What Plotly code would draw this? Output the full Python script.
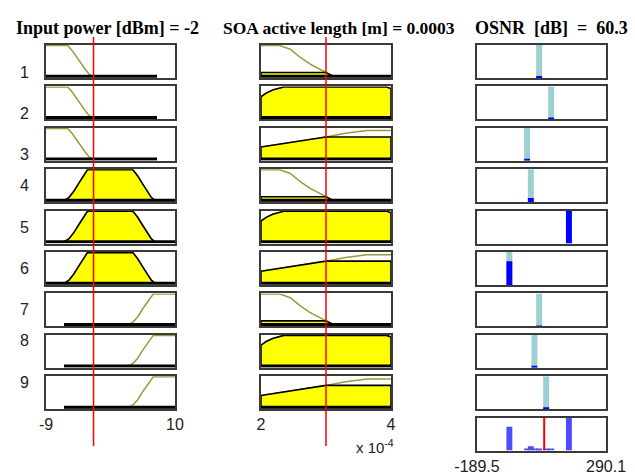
import plotly.graph_objects as go
import numpy as np

W, H = 635, 475

# ---------------- data ----------------
power_range = [-9, 10]
soa_range = [2, 4]            # x 1e-4 m
osnr_range = [-189.5, 290.1]
input_power = -2
soa_length = 3.0              # x 1e-4 m  (0.0003 m)
osnr_value = 60.3

# input power membership functions
power_low_x = [-9, -5.8, -5.2, -4.5, -3.8, -3.2, -2.7, -2.2, -2.0, 7.35]
power_low_y = [1, 1, 0.85, 0.62, 0.40, 0.22, 0.08, 0.0, 0.0, 0.0]
power_mid_x = [-9, -6.3, -5.6, -4.9, -4.2, -3.5, -2.9, 3.8, 4.5, 5.2, 5.9, 6.5, 7.05, 10]
power_mid_y = [0, 0, 0.10, 0.30, 0.55, 0.80, 1, 1, 0.80, 0.55, 0.30, 0.10, 0, 0]
power_high_x = [-6.35, 3.1, 3.8, 4.5, 5.2, 5.9, 6.4, 6.8, 10]
power_high_y = [0, 0, 0.08, 0.25, 0.50, 0.72, 0.90, 1, 1]

# SOA active length membership functions (x 1e-4 m)
soa_short_x = [2.0, 2.29, 2.45, 2.6, 2.75, 2.9, 3.0, 3.11, 4.0]
soa_short_y = [1, 1, 0.88, 0.62, 0.40, 0.22, 0.12, 0, 0]
soa_full_x = [2.0, 2.08, 2.18, 2.35, 3.93, 4.0]
soa_full_y = [0.68, 0.80, 0.90, 1, 1, 0.95]
soa_rise_x = [2.0, 2.5, 3.0, 3.3, 3.63, 4.0]
soa_rise_y = [0.39, 0.55, 0.72, 0.84, 0.93, 0.93]

rule_power_mf = ["low", "low", "low", "mid", "mid", "mid", "high", "high", "high"]
rule_soa_mf = ["short", "full", "rise", "short", "full", "rise", "short", "full", "rise"]
rule_power_degree = [0, 0, 0, 1, 1, 1, 0, 0, 0]
rule_soa_degree = [0.12, 1, 0.72, 0.12, 1, 0.72, 0.12, 1, 0.72]

osnr_centers = [41.5, 86.2, -3.2, 10.6, 152.2, -69.2, 41.5, 24.0, 67.6]
rule_strength = [0.05, 0.05, 0.05, 0.13, 1.0, 0.72, 0.02, 0.05, 0.05]
osnr_mf_width = 22

rule_labels = ["1", "2", "3", "4", "5", "6", "7", "8", "9"]

power_mfs = {"low": (power_low_x, power_low_y), "mid": (power_mid_x, power_mid_y),
             "high": (power_high_x, power_high_y)}
soa_mfs = {"short": (soa_short_x, soa_short_y), "full": (soa_full_x, soa_full_y),
           "rise": (soa_rise_x, soa_rise_y)}

# ---------------- layout geometry (pixels) ----------------
cols = [(46, 175), (261, 391), (477, 606)]
row_top0, row_step, row_h = 45, 41.4, 33

def dom_x(c):
    return [cols[c][0] / W, cols[c][1] / W]

def dom_y(r):
    top = row_top0 + row_step * r
    return [1 - (top + row_h) / H, 1 - top / H]

OLIVE = "#9a9a3a"
YELLOW = "#ffff00"
TEAL = "#9ccfcf"
BLUE = "#0000ff"
AGG_BLUE = "#4d4dff"
BORDER = "#3a3a3a"
TXT = "#222222"
TICKFONT = dict(family="Liberation Sans", size=16, color=TXT)

fig = go.Figure()
layout = dict(width=W, height=H, margin=dict(l=0, r=0, t=0, b=0, autoexpand=False),
              paper_bgcolor="white", plot_bgcolor="white", showlegend=False,
              barmode="overlay")
shapes = []
annotations = []

axis_id = 0
axis_ref = {}

def add_axes(r, c, rng, yrng, ticks=None, layer="below traces"):
    global axis_id
    axis_id += 1
    n = axis_id
    sx = "" if n == 1 else str(n)
    xa = dict(domain=dom_x(c), range=rng, anchor="y" + sx, showgrid=False, zeroline=False,
              showline=True, mirror=True, linecolor=BORDER, linewidth=2, layer=layer,
              fixedrange=True, automargin=False)
    if ticks:
        xa.update(tickmode="array", tickvals=ticks[0], ticktext=ticks[1], ticks="",
                  showticklabels=True, tickfont=TICKFONT)
    else:
        xa.update(showticklabels=False, ticks="")
    ya = dict(domain=dom_y(r), range=yrng, anchor="x" + sx, showgrid=False, zeroline=False,
              showline=True, mirror=True, linecolor=BORDER, linewidth=2, layer=layer,
              showticklabels=False, ticks="", fixedrange=True, automargin=False)
    layout["xaxis" + sx] = xa
    layout["yaxis" + sx] = ya
    axis_ref[(r, c)] = ("x" + sx, "y" + sx)
    return "x" + sx, "y" + sx

MF_YRANGE = [-0.06, 1.02]
BAR_YRANGE = [0, 1.0]

def draw_mf(xs, ys, deg, xr, yr):
    xs = list(xs); ys = list(ys)
    fig.add_trace(go.Scatter(x=xs, y=ys, mode="lines", line=dict(color=OLIVE, width=1.5),
                             xaxis=xr, yaxis=yr, hoverinfo="skip"))
    fy = list(np.minimum(np.array(ys, dtype=float), deg))
    px = xs + [xs[-1], xs[0], xs[0]]
    py = fy + [0, 0, fy[0]]
    fig.add_trace(go.Scatter(x=px, y=py, mode="lines", fill="toself", fillcolor=YELLOW,
                             line=dict(color="black", width=1.6), xaxis=xr, yaxis=yr,
                             hoverinfo="skip"))
    # thick baseline of the rule patch
    fig.add_trace(go.Scatter(x=[xs[0], xs[-1]], y=[0, 0], mode="lines",
                             line=dict(color="black", width=3), xaxis=xr, yaxis=yr,
                             hoverinfo="skip"))

for r in range(9):
    last = r == 8
    # input power column
    xr, yr = add_axes(r, 0, power_range, MF_YRANGE,
                      ticks=([power_range[0], power_range[1]], ["-9", "10"]) if last else None)
    mx, my = power_mfs[rule_power_mf[r]]
    draw_mf(mx, my, rule_power_degree[r], xr, yr)
    # SOA column
    xr, yr = add_axes(r, 1, soa_range, MF_YRANGE,
                      ticks=([soa_range[0], soa_range[1]], ["2", "4"]) if last else None)
    mx, my = soa_mfs[rule_soa_mf[r]]
    draw_mf(mx, my, rule_soa_degree[r], xr, yr)
    # OSNR column
    xr, yr = add_axes(r, 2, osnr_range, BAR_YRANGE, layer="above traces")
    fig.add_trace(go.Bar(x=[osnr_centers[r]], y=[1], width=[osnr_mf_width], marker_color=TEAL,
                         marker_line_width=0, xaxis=xr, yaxis=yr, hoverinfo="skip"))
    fig.add_trace(go.Bar(x=[osnr_centers[r]], y=[rule_strength[r]], width=[osnr_mf_width],
                         marker_color=BLUE, marker_line_width=0, xaxis=xr, yaxis=yr,
                         hoverinfo="skip"))
    # rule number
    d = dom_y(r)
    annotations.append(dict(x=18 / W, y=(d[0] + d[1]) / 2, xref="paper", yref="paper",
                            text=rule_labels[r], showarrow=False, font=TICKFONT))

# aggregated output
xr, yr = add_axes(9, 2, osnr_range, BAR_YRANGE,
                  ticks=([osnr_range[0], osnr_range[1]], ["-189.5", "290.1"]), layer="above traces")
fig.add_trace(go.Bar(x=osnr_centers, y=rule_strength, width=[osnr_mf_width] * 9,
                     marker_color=AGG_BLUE, marker_line_width=0, xaxis=xr, yaxis=yr,
                     hoverinfo="skip"))
shapes.append(dict(type="line", xref=xr, yref=yr, x0=osnr_value, x1=osnr_value, y0=0, y1=1,
                   line=dict(color="red", width=2)))

# red input lines through columns 1 and 2
for c, val in [(0, input_power), (1, soa_length)]:
    xref = axis_ref[(8, c)][0]
    shapes.append(dict(type="line", xref=xref, yref="paper", x0=val, x1=val,
                       y0=1 - 446 / H, y1=1 - 37 / H, line=dict(color="red", width=1.5)))

# titles
tfont = dict(family="Liberation Serif", size=18, color="black")
annotations.append(dict(x=14 / W, y=1 - 16 / H, xref="paper", yref="paper", xanchor="left",
                        text="<b>Input power [dBm] = -2</b>", showarrow=False, font=tfont))
annotations.append(dict(x=221 / W, y=1 - 16 / H, xref="paper", yref="paper", xanchor="left",
                        text="<b>SOA active length [m] = 0.0003</b>", showarrow=False,
                        font=dict(family="Liberation Serif", size=17.5, color="black")))
annotations.append(dict(x=630 / W, y=1 - 16 / H, xref="paper", yref="paper", xanchor="right",
                        text="<b>OSNR&nbsp;&nbsp;[dB]&nbsp;&nbsp;=&nbsp;&nbsp;60.3</b>",
                        showarrow=False, font=tfont))
annotations.append(dict(x=375 / W, y=1 - 458 / H, xref="paper", yref="paper",
                        text="x 10<sup>-4</sup>", showarrow=False,
                        font=dict(family="Liberation Sans", size=15, color=TXT)))

layout["shapes"] = shapes
layout["annotations"] = annotations
fig.update_layout(**layout)
fig.write_html("out.html")
